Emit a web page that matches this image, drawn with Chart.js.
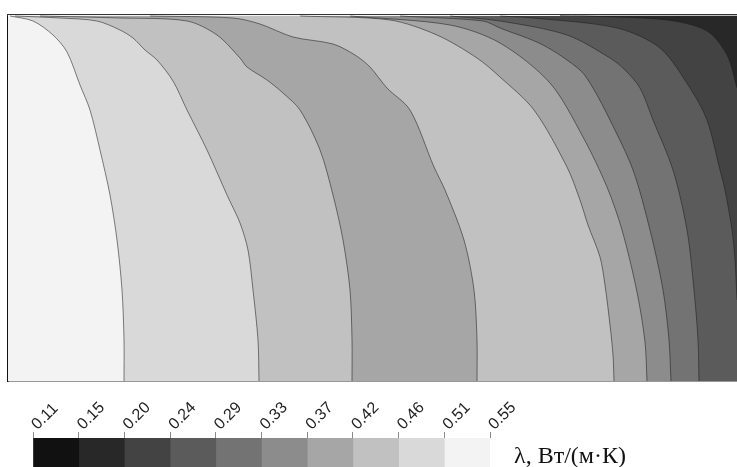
<!DOCTYPE html>
<html>
<head>
<meta charset="utf-8">
<script src="https://cdn.jsdelivr.net/npm/chart.js@4.4.1/dist/chart.umd.min.js"></script>
<style>
  html, body { margin: 0; padding: 0; background: #fff; }
  #wrap { position: relative; width: 737px; height: 467px; overflow: hidden; }
  #pole { position: absolute; left: 0; top: 0; }
  #shkala { position: absolute; left: 0; top: 390px; }
  #podpis {
    position: absolute; left: 514px; top: 443px;
    font-family: "Liberation Serif", "DejaVu Serif", serif;
    font-size: 24px; line-height: 1; color: #111; white-space: nowrap;
  }
</style>
</head>
<body>
<div id="wrap">
  <canvas id="pole" width="737" height="390"></canvas>
  <canvas id="shkala" width="737" height="77"></canvas>
  <div id="podpis">λ, Вт/(м·К)</div>
</div>
<script>
// уровни теплопроводности на шкале, Вт/(м·К)
const urovni = ['0.11', '0.15', '0.20', '0.24', '0.29', '0.33', '0.37', '0.42', '0.46', '0.51', '0.55'];
// цвет каждого интервала между уровнями (от тёмного к светлому)
const serye = ['#111111', '#282828', '#434343', '#5b5b5b', '#737373', '#8c8c8c', '#a6a6a6', '#c1c1c1', '#d9d9d9', '#f3f3f3'];

// размеры поля (условные единицы), y отсчитывается сверху вниз
const shirina = 729;
const glubina = 366;

// изолинии слева направо: координаты точек
const izo1X = [2, 25, 45, 59, 72, 82, 92, 102, 109, 114, 116, 116];
const izo1Y = [1, 6, 20, 37, 70, 95, 135, 180, 225, 275, 325, 366];
const izo2X = [7, 52, 89, 112, 125, 137, 149, 165, 179, 199, 219, 232, 240, 245, 250, 251];
const izo2Y = [1, 3, 6, 15, 23, 35, 45, 66, 95, 135, 180, 208, 235, 275, 325, 366];
const izo3X = [32, 112, 179, 209, 232, 239, 259, 275, 292, 312, 325, 335, 342, 344, 344];
const izo3Y = [1, 3, 6, 20, 43, 52, 65, 78, 95, 135, 180, 225, 275, 325, 366];
const izo4X = [142, 225, 252, 285, 325, 347, 362, 379, 402, 426, 437, 456, 466, 469, 469];
const izo4Y = [1, 3, 9, 22, 29, 40, 52, 73, 95, 152, 175, 225, 275, 325, 366];
const izo5X = [292, 382, 429, 469, 492, 526, 559, 572, 580, 592, 597, 602, 605, 606];
const izo5Y = [1, 5, 20, 43, 62, 95, 152, 185, 210, 242, 270, 310, 340, 366];
const izo6X = [342, 442, 492, 542, 575, 599, 614, 629, 637, 639];
const izo6Y = [1, 10, 28, 68, 122, 172, 215, 277, 327, 366];
const izo7X = [392, 475, 492, 535, 572, 585, 602, 625, 642, 655, 661, 663];
const izo7Y = [1, 6, 13, 30, 55, 73, 105, 155, 215, 275, 325, 366];
const izo8X = [442, 492, 559, 602, 617, 632, 645, 665, 679, 686, 690, 691];
const izo8Y = [1, 6, 20, 43, 55, 73, 105, 155, 215, 275, 325, 366];
const izo9X = [492, 525, 609, 652, 682, 699, 712, 717, 724, 727, 729];
const izo9Y = [1, 3, 13, 33, 73, 105, 155, 175, 215, 245, 285];
const izo10X = [552, 575, 659, 699, 719, 729];
const izo10Y = [0.5, 1, 5, 16, 40, 73];

// номер цвета полосы справа от каждой изолинии
const polosy = [8, 7, 6, 7, 6, 5, 4, 3, 2, 1];

const izolinii = [
    [izo1X, izo1Y], [izo2X, izo2Y], [izo3X, izo3Y], [izo4X, izo4Y], [izo5X, izo5Y],
    [izo6X, izo6Y], [izo7X, izo7Y], [izo8X, izo8Y], [izo9X, izo9Y], [izo10X, izo10Y]
];

// фон — самая светлая полоса у левого края
const nabory = [{
    data: [{ x: 0, y: 0 }, { x: 0, y: glubina }],
    fill: { value: shirina },
    backgroundColor: serye[9],
    borderWidth: 0,
    order: 100
}];

// каждая изолиния заливает всё справа от себя, следующая рисуется поверх
izolinii.forEach(([xs, ys], i) => {
    nabory.push({
        data: xs.map((x, k) => ({ x: x, y: ys[k] })),
        fill: { value: shirina },
        backgroundColor: serye[polosy[i]],
        borderColor: 'rgba(30, 30, 30, 0.55)',
        borderWidth: 1,
        tension: 0.3,
        order: izolinii.length - i
    });
});

const bezOsi = { display: false, drawTicks: false };

new Chart(document.getElementById('pole'), {
    type: 'line',
    data: { datasets: nabory },
    options: {
        indexAxis: 'y',
        responsive: false,
        animation: false,
        events: [],
        layout: { padding: { left: 8, top: 15, right: 0, bottom: 9 } },
        elements: { point: { radius: 0 } },
        plugins: { legend: { display: false }, tooltip: { enabled: false } },
        scales: {
            x: {
                type: 'linear', position: 'bottom', min: 0, max: shirina,
                ticks: { display: false }, grid: bezOsi,
                border: { color: '#333', width: 1.5 }
            },
            y: {
                type: 'linear', min: 0, max: glubina, reverse: true,
                ticks: { display: false }, grid: bezOsi,
                border: { color: '#111', width: 1.5 }
            },
            verh: {
                type: 'linear', axis: 'x', position: 'top', min: 0, max: shirina,
                ticks: { display: false }, grid: bezOsi,
                border: { color: '#333', width: 2 }
            }
        }
    }
});

// шкала цветов под полем
new Chart(document.getElementById('shkala'), {
    type: 'bar',
    data: {
        labels: ['λ'],
        datasets: serye.map((c, k) => ({
            data: [[k, k + 1]],
            backgroundColor: c,
            borderWidth: 0
        }))
    },
    options: {
        indexAxis: 'y',
        responsive: false,
        animation: false,
        events: [],
        layout: { padding: { left: 33, right: 247, top: 0, bottom: 0 } },
        plugins: { legend: { display: false }, tooltip: { enabled: false } },
        datasets: { bar: { grouped: false, barPercentage: 1, categoryPercentage: 1 } },
        scales: {
            x: {
                type: 'linear', position: 'top', min: 0, max: urovni.length - 1,
                afterFit: (s) => { s.height = 48; },
                ticks: {
                    stepSize: 1, autoSkip: false, minRotation: 45, maxRotation: 45,
                    padding: -2, labelOffset: 15,
                    color: '#222',
                    font: { family: '"Liberation Sans", Arial, sans-serif', size: 16 },
                    callback: (v) => urovni[v]
                },
                grid: { drawOnChartArea: false, drawTicks: true, tickLength: 6, color: '#8a8a8a' },
                border: { display: false }
            },
            y: { display: false }
        }
    }
});
</script>
</body>
</html>
